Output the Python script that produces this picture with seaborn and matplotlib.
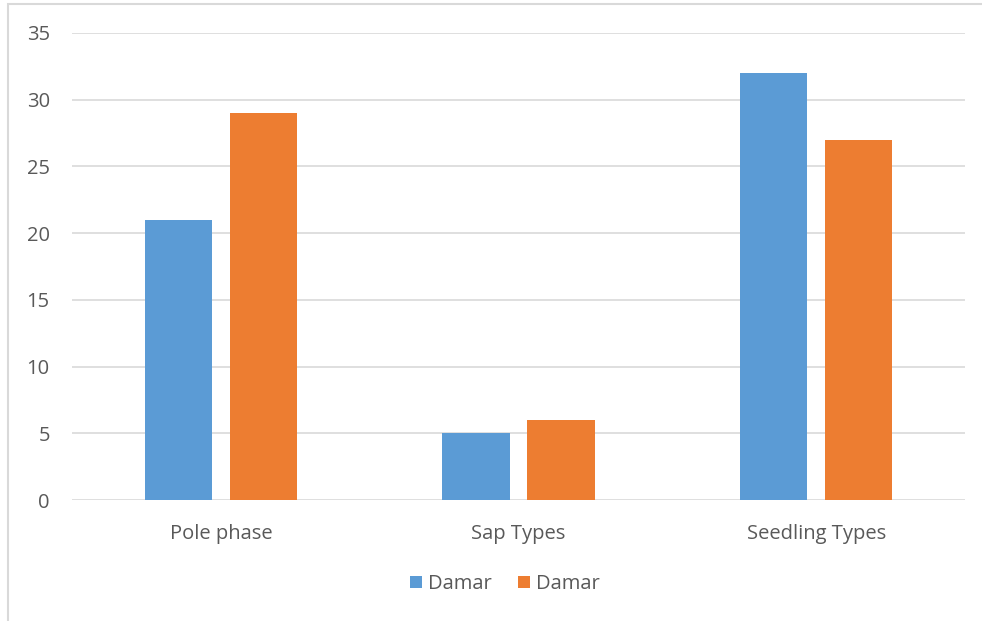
import pandas as pd
import matplotlib
matplotlib.use("Agg")
import matplotlib.pyplot as plt
import seaborn as sns
from matplotlib.patches import Rectangle, Patch

# data
categories = ["Pole phase", "Sap Types", "Seedling Types"]
series_a = [21, 5, 32]
series_b = [29, 6, 27]
series_labels = ["Damar", "Damar"]
y_ticks = [0, 5, 10, 15, 20, 25, 30, 35]

colors = ["#5B9BD5", "#ED7D31"]
text_color = "#595959"
grid_color = "#D9D9D9"

df = pd.DataFrame({
    "categoria": categories * 2,
    "valor": series_a + series_b,
    "serie": ["s1"] * len(categories) + ["s2"] * len(categories),
})

sns.set_style("white")
plt.rcParams["font.family"] = ["Open Sans", "DejaVu Sans"]

fig = plt.figure(figsize=(9.82, 6.21), dpi=100)
ax = fig.add_axes([72 / 982, 121 / 621, (965 - 72) / 982, (500 - 33) / 621])

sns.barplot(data=df, x="categoria", y="valor", hue="serie",
            palette=colors, width=0.571, gap=0.21, saturation=1,
            linewidth=0, ax=ax, legend=False, zorder=3)

ax.set_ylim(0, 35)
ax.set_yticks(y_ticks)
ax.set_xlim(-0.5, len(categories) - 0.5)
ax.grid(axis="y", color=grid_color, linewidth=1.2, zorder=0)
ax.set_axisbelow(True)
for s in ax.spines.values():
    s.set_visible(False)
ax.tick_params(axis="both", length=0, colors=text_color, labelsize=14.5)
ax.tick_params(axis="y", pad=16)
ax.tick_params(axis="x", pad=17)
ax.set_xlabel("")
ax.set_ylabel("")

handles = [Patch(facecolor=c, edgecolor="none") for c in colors]
fig.legend(handles, series_labels, loc="center", bbox_to_anchor=(505 / 982, 1 - 584 / 621),
           ncol=2, frameon=False, fontsize=14.5, labelcolor=text_color,
           handlelength=0.6, handleheight=0.6, handletextpad=0.3, columnspacing=1.3)

# chart frame (left and top edges visible, rest cropped)
fig.patches.append(Rectangle((8 / 982, -0.05), 1.1, 1 - 4 / 621 + 0.05,
                             transform=fig.transFigure, fill=False,
                             edgecolor="#D9D9D9", linewidth=1.5))

fig.savefig("out.png", dpi=100)
